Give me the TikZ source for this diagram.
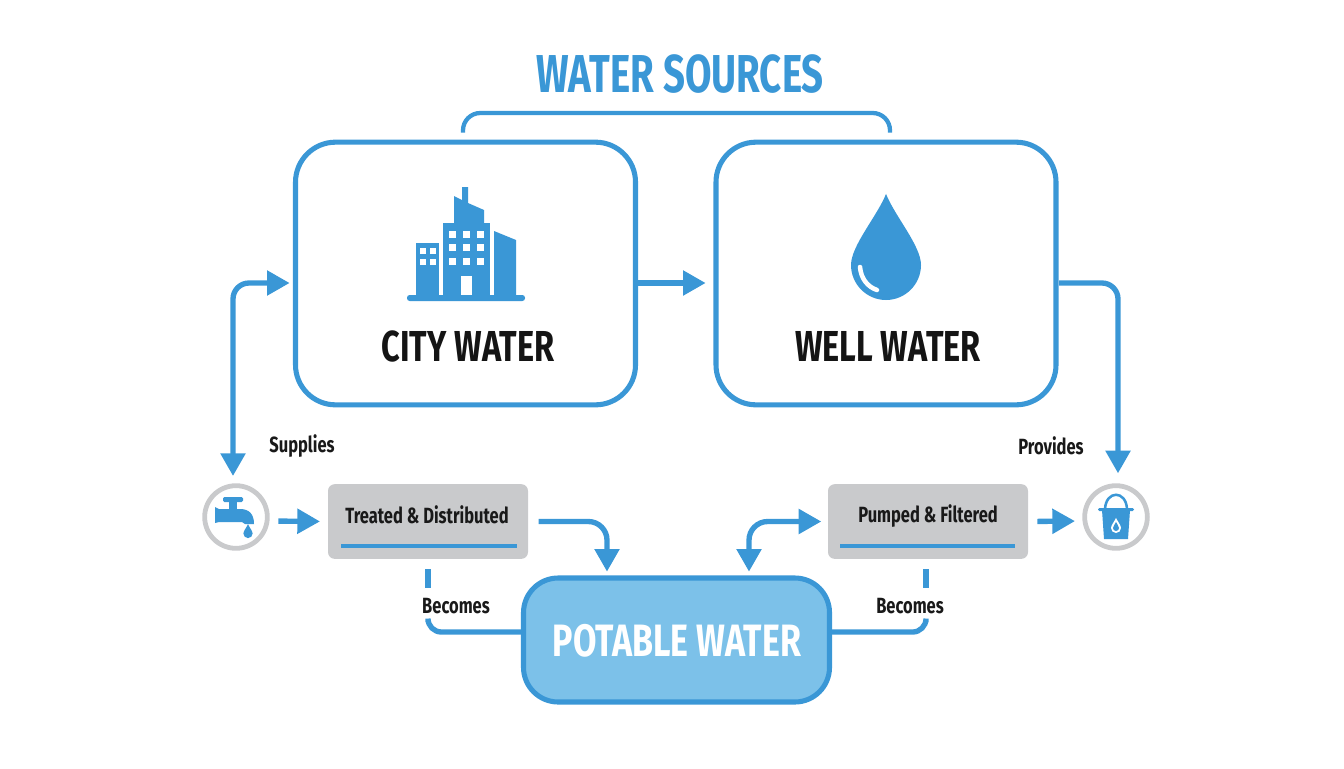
\documentclass[tikz,border=0pt]{standalone}
\usepackage{fontspec}
\usetikzlibrary{arrows.meta}
\newfontfamily\labelfont[FakeStretch=0.75]{Fira Sans}
\newfontfamily\titlefont[FakeStretch=0.72]{Fira Sans}
\definecolor{waterblue}{HTML}{3A97D6}
\definecolor{lightwater}{HTML}{7CC1E9}
\definecolor{softgrey}{HTML}{C9CACC}
\tikzset{
	sourcebox/.style={draw=waterblue, line width=3.8pt, fill=white, rounded corners=30pt, minimum width=255pt, minimum height=197pt, inner sep=0pt, outer sep=0pt},
	stagebox/.style={fill=softgrey, rounded corners=5pt, minimum width=150pt, minimum height=56pt, inner sep=0pt, outer sep=0pt},
	endcircle/.style={circle, draw=softgrey, line width=3.6pt, fill=white, minimum size=47pt, inner sep=0pt, outer sep=0pt},
	flowline/.style={draw=waterblue, line width=4pt},
	flowarrow/.style={flowline, -{Triangle[length=17pt,width=18pt]}},
	flowboth/.style={flowline, {Triangle[length=17pt,width=18pt]}-{Triangle[length=17pt,width=18pt]}},
	smalllabel/.style={font=\labelfont\bfseries\fontsize{16.5pt}{18pt}\selectfont, text=black!90},
	biglabel/.style={font=\labelfont\bfseries\fontsize{32.5pt}{34pt}\selectfont, text=black!92},
	dropicon/.pic={\fill (0,-2.03) .. controls (0.25,-1.4) and (1,-0.55) .. (1,0) .. controls (1,0.55) and (0.55,1) .. (0,1) .. controls (-0.55,1) and (-1,0.55) .. (-1,0) .. controls (-1,-0.55) and (-0.25,-1.4) .. cycle;}
}
\begin{document}
\begin{tikzpicture}[x=0.75pt, y=-0.75pt]
	\useasboundingbox (0,0) rectangle (1344,768);
	\node[font=\titlefont\bfseries\fontsize{40pt}{42pt}\selectfont, text=waterblue] (title) at (680,74) {WATER SOURCES};
	\node[sourcebox] (citybox) at (465.5,273.5) {};
	\node[sourcebox] (wellbox) at (886,273.5) {};
	\node[biglabel] (citylabel) at (468,346) {CITY WATER};
	\node[biglabel] (welllabel) at (888,346) {WELL WATER};
	\node[stagebox] (treatedbox) at (428,521.5) {};
	\node[stagebox] (pumpedbox) at (928,521.5) {};
	\node[smalllabel] (treatedlabel) at (427,515) {Treated \& Distributed};
	\node[smalllabel] (pumpedlabel) at (928,516) {Pumped \& Filtered};
	\node[endcircle] (tapcircle) at (236,517) {};
	\node[endcircle] (bucketcircle) at (1116,517) {};
	\node[draw=waterblue, fill=lightwater, line width=3.8pt, rounded corners=26pt, minimum width=229.5pt, minimum height=93pt, inner sep=0pt, outer sep=0pt] (potablebox) at (676.5,640) {};
	\node[font=\labelfont\bfseries\fontsize{34pt}{36pt}\selectfont, text=white] (potablelabel) at (677,641) {POTABLE WATER};
	\node[smalllabel] (supplieslabel) at (302,446) {Supplies};
	\node[smalllabel] (provideslabel) at (1051,446) {Provides};
	\node[smalllabel] (becomesleft) at (456,606) {Becomes};
	\node[smalllabel] (becomesright) at (910,606) {Becomes};
	\coordinate (railleft) at (463,142);
	\coordinate (railright) at (890,142);
	\coordinate (cityin) at (295,283);
	\coordinate (cityout) at (636,283);
	\coordinate (wellin) at (715,283);
	\coordinate (wellout) at (1057,283);
	\coordinate (tapin) at (233,484);
	\coordinate (bucketin) at (1118,484);
	\coordinate (tapout) at (269,521);
	\coordinate (bucketout) at (1083,521);
	\coordinate (treatedin) at (607,577);
	\coordinate (pumpedin) at (749,577);
	\coordinate (treatedfoot) at (428,559);
	\coordinate (pumpedfoot) at (926,559);
	\coordinate (treatedtail) at (428,622);
	\coordinate (pumpedtail) at (926,622);
	\coordinate (potableleft) at (522,632);
	\coordinate (potableright) at (831,632);
	\draw[flowline, line width=3.2pt, rounded corners=13pt, shorten <=7pt, shorten >=7pt] (railleft) -- (463,113) -- (890,113) -- (railright);
	\draw[flowarrow, shorten <=1.5pt, shorten >=7pt] (cityout) -- (wellin);
	\draw[flowboth, rounded corners=12pt, shorten <=6pt, shorten >=4pt] (tapin) -- (233,283) -- (cityin);
	\draw[flowarrow, rounded corners=12pt, shorten <=1.5pt, shorten >=8pt] (wellout) -- (1118,283) -- (bucketin);
	\draw[flowarrow, shorten <=7pt, shorten >=6pt] (tapout) -- (treatedbox.west);
	\draw[flowarrow, rounded corners=14pt, shorten <=8pt, shorten >=4pt] (treatedbox.east) -| (treatedin);
	\draw[flowboth, rounded corners=14pt, shorten <=4pt, shorten >=5pt] (pumpedin) |- (pumpedbox.west);
	\draw[flowarrow, shorten <=7pt, shorten >=6pt] (pumpedbox.east) -- (bucketout);
	\draw[flowline, shorten <=7.5pt] (treatedfoot) -- (428,588);
	\draw[flowline, shorten <=7.5pt] (pumpedfoot) -- (926,588);
	\draw[flowline, rounded corners=10pt] (treatedtail) -- (428,632) -- (potableleft);
	\draw[flowline, rounded corners=10pt] (pumpedtail) -- (926,632) -- (potableright);
	\draw[waterblue, line width=2.6pt] (341,546) -- (517,546);
	\draw[waterblue, line width=2.6pt] (840,546) -- (1015,546);
	\fill[waterblue, rounded corners=2pt] (407,295) rectangle (525,301);
	\fill[waterblue] (416,243) rectangle (439,297);
	\fill[waterblue] (443,223) rectangle (490,297);
	\fill[waterblue] (454,196) -- (462,200) -- (462,187) -- (468,187) -- (468,203) -- (484,210) -- (484,223) -- (454,223) -- cycle;
	\fill[waterblue] (494,231) -- (516,240) -- (516,297) -- (494,297) -- cycle;
	\foreach \winx in {449,463,477}
		\foreach \winy in {231,244,258}
			\fill[white] (\winx,\winy) rectangle +(7,7);
	\foreach \winx in {420,430}
		\foreach \winy in {248,259}
			\fill[white] (\winx,\winy) rectangle +(6,5.5);
	\fill[white] (461,276) rectangle (472,295);
	\pic[waterblue, scale=35] at (886,265) {dropicon};
	\draw[white, line width=3.4pt, line cap=round] (860,267) .. controls (861,279) and (868,287) .. (877,290);
	\fill[waterblue, rounded corners=1pt] (223,497) rectangle (243,502);
	\fill[waterblue] (229,501) rectangle (237,511);
	\fill[waterblue] (215,507) -- (219,509) -- (240,509) .. controls (250,509) and (254,515) .. (254,524) -- (245,524) -- (242,522) -- (219,522) -- (215,523) -- cycle;
	\pic[waterblue, scale=4.6] at (248,533.5) {dropicon};
	\fill[waterblue] (1102,510) -- (1130,510) -- (1128,539) -- (1104,539) -- cycle;
	\fill[waterblue, rounded corners=1pt] (1098,508) rectangle (1134,511);
	\draw[waterblue, line width=1.9pt] (1105,509) .. controls (1106,490) and (1126,490) .. (1127,509);
	\pic[white, scale=5] at (1116,528) {dropicon};
	\pic[waterblue, scale=3] at (1116,528) {dropicon};
\end{tikzpicture}
\end{document}
